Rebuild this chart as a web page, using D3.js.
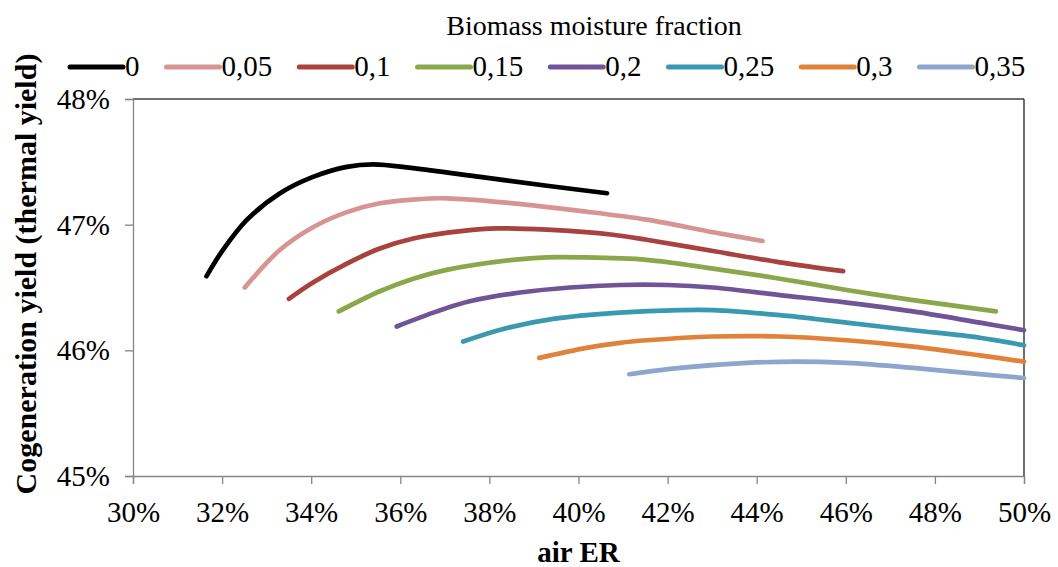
<!DOCTYPE html>
<html>
<head>
<meta charset="utf-8">
<script src="https://cdn.jsdelivr.net/npm/d3@7"></script>
<style>
  body { margin: 0; background: #fff; }
  svg { display: block; font-family: "Liberation Serif", "Times New Roman", serif; }
</style>
</head>
<body>
<svg id="chart" width="1058" height="567"></svg>
<script>
// ---- data (air ER %, cogeneration yield %) ----
const moistureLabels = ["0", "0,05", "0,1", "0,15", "0,2", "0,25", "0,3", "0,35"];
const seriesColors = ["#000000", "#d69592", "#a8423f", "#8aa84b", "#6f5598", "#3a98b1", "#e0823a", "#8ea6cd"];

const er00 = [31.65, 32.02, 32.56, 33.30, 34.04, 34.80, 35.39, 36.29, 37.79, 39.29, 40.64];
const y00  = [46.59, 46.80, 47.04, 47.25, 47.38, 47.46, 47.48, 47.45, 47.38, 47.31, 47.25];

const er05 = [32.51, 33.30, 34.04, 34.80, 35.54, 36.29, 37.05, 38.53, 40.03, 41.53, 43.02, 44.13];
const y05  = [46.50, 46.80, 46.98, 47.10, 47.17, 47.20, 47.21, 47.17, 47.11, 47.04, 46.94, 46.87];

const er10 = [33.50, 34.04, 34.80, 35.54, 36.29, 37.41, 38.17, 39.29, 40.77, 41.53, 43.02, 44.52, 45.94];
const y10  = [46.41, 46.54, 46.69, 46.81, 46.89, 46.95, 46.97, 46.96, 46.92, 46.88, 46.79, 46.70, 46.63];

const er15 = [34.62, 35.54, 36.29, 37.04, 38.53, 39.29, 40.03, 41.53, 43.02, 44.52, 46.02, 47.51, 49.37];
const y15  = [46.31, 46.47, 46.57, 46.64, 46.72, 46.74, 46.74, 46.72, 46.65, 46.57, 46.48, 46.40, 46.31];

const er20 = [35.92, 36.82, 37.56, 38.69, 39.81, 40.93, 42.00, 43.02, 44.52, 46.02, 47.51, 49.01, 50.00];
const y20  = [46.19, 46.31, 46.39, 46.46, 46.50, 46.52, 46.52, 46.50, 46.44, 46.38, 46.31, 46.22, 46.16];

const er25 = [37.41, 38.31, 39.43, 40.93, 42.28, 43.02, 44.52, 46.02, 47.51, 49.01, 50.00];
const y25  = [46.07, 46.17, 46.25, 46.30, 46.32, 46.32, 46.28, 46.22, 46.16, 46.10, 46.04];

const er30 = [39.12, 40.18, 40.93, 41.53, 43.02, 44.52, 46.02, 47.51, 49.01, 50.00];
const y30  = [45.94, 46.02, 46.06, 46.08, 46.11, 46.11, 46.08, 46.03, 45.96, 45.91];

const er35 = [41.14, 42.28, 43.78, 44.90, 46.02, 47.51, 49.01, 50.00];
const y35  = [45.81, 45.86, 45.90, 45.91, 45.90, 45.86, 45.81, 45.78];

const xTicks = [30, 32, 34, 36, 38, 40, 42, 44, 46, 48, 50];
const yTicks = [45, 46, 47, 48];

const erSets = [er00, er05, er10, er15, er20, er25, er30, er35];
const ySets  = [y00, y05, y10, y15, y20, y25, y30, y35];

const series = moistureLabels.map((name, i) => ({
  name,
  color: seriesColors[i],
  points: erSets[i].map((x, j) => ({ x, y: ySets[i][j] }))
}));

// ---- layout ----
const svg = d3.select("#chart");
const plot = { left: 133, right: 1024, top: 99, bottom: 476 };

const x = d3.scaleLinear().domain([30, 50]).range([plot.left, plot.right]);
const y = d3.scaleLinear().domain([45, 48]).range([plot.bottom, plot.top]);

const axisGrey = "#868686";
const serif = "Liberation Serif, Times New Roman, serif";
const fontSize = 29;

// marco superior / derecho
svg.append("line")
  .attr("x1", plot.left).attr("x2", plot.right)
  .attr("y1", plot.top).attr("y2", plot.top)
  .attr("stroke", "#404040").attr("stroke-width", 1.3);
svg.append("line")
  .attr("x1", plot.right).attr("x2", plot.right)
  .attr("y1", plot.top).attr("y2", plot.bottom)
  .attr("stroke", "#202020").attr("stroke-width", 1.3);

// ejes
const gx = svg.append("g")
  .attr("transform", `translate(0,${plot.bottom})`)
  .call(d3.axisBottom(x).tickValues(xTicks).tickSize(8).tickPadding(17)
    .tickFormat(d => d + "%"));

const gy = svg.append("g")
  .attr("transform", `translate(${plot.left},0)`)
  .call(d3.axisLeft(y).tickValues(yTicks).tickSize(8).tickPadding(15)
    .tickFormat(d => d + "%"));

[gx, gy].forEach(g => {
  g.attr("font-family", serif).attr("font-size", fontSize);
  g.select(".domain").attr("stroke", axisGrey).attr("stroke-width", 1.3);
  g.selectAll(".tick line").attr("stroke", axisGrey).attr("stroke-width", 1.3);
  g.selectAll(".tick text").attr("fill", "#000");
});
gy.selectAll(".tick text").attr("dy", "0.33em");

// curvas
const line = d3.line()
  .x(d => x(d.x))
  .y(d => y(d.y))
  .curve(d3.curveCatmullRom.alpha(0.5));

svg.append("g")
  .selectAll("path")
  .data(series)
  .join("path")
  .attr("d", d => line(d.points))
  .attr("fill", "none")
  .attr("stroke", d => d.color)
  .attr("stroke-width", 4.7)
  .attr("stroke-linecap", "round")
  .attr("stroke-linejoin", "round");

// titulos de ejes
svg.append("text")
  .attr("x", (plot.left + plot.right) / 2)
  .attr("y", 562)
  .attr("text-anchor", "middle")
  .attr("font-family", serif)
  .attr("font-size", fontSize)
  .attr("font-weight", "bold")
  .text("air ER");

svg.append("text")
  .attr("transform", `translate(36,274) rotate(-90)`)
  .attr("text-anchor", "middle")
  .attr("font-family", serif)
  .attr("font-size", 30)
  .attr("font-weight", "bold")
  .text("Cogeneration yield (thermal yield)");

// leyenda
svg.append("text")
  .attr("x", 594)
  .attr("y", 35)
  .attr("text-anchor", "middle")
  .attr("font-family", serif)
  .attr("font-size", 28)
  .text("Biomass moisture fraction");

const legend = svg.append("g")
  .attr("class", "leyenda")
  .attr("font-family", serif)
  .attr("font-size", fontSize);
let lx = 70;
const ly = 67;
series.forEach(s => {
  legend.append("line")
    .attr("x1", lx).attr("x2", lx + 53)
    .attr("y1", ly).attr("y2", ly)
    .attr("stroke", s.color)
    .attr("stroke-width", 5)
    .attr("stroke-linecap", "round");
  const t = legend.append("text")
    .attr("x", lx + 55)
    .attr("y", ly + 9)
    .text(s.name);
  lx += 55 + t.node().getComputedTextLength() + 27;
});
</script>
</body>
</html>
